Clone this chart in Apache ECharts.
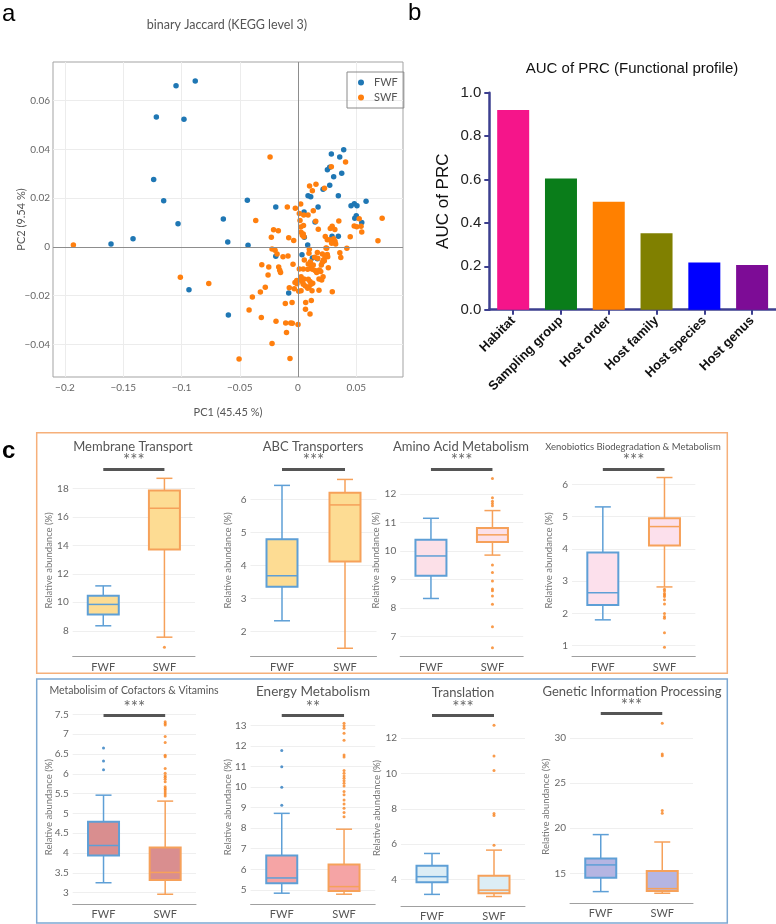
<!DOCTYPE html>
<html>
<head>
<meta charset="utf-8">
<script src="https://cdn.jsdelivr.net/npm/echarts@6/dist/echarts.min.js"></script>
<style>
  html, body { margin: 0; padding: 0; background: #fff; }
  #chart { width: 776px; height: 924px; }
</style>
</head>
<body>
<div id="chart"></div>
<script>
// ---------- a: PCoA, binary Jaccard (KEGG level 3) ----------
const pcaFWF = [
  [-0.1047, 0.0661], [-0.0882, 0.0680], [-0.1216, 0.0533], [-0.0979, 0.0523], [-0.1239, 0.0276],
  [-0.1153, 0.0189], [-0.1030, 0.0095], [-0.1416, 0.0034], [-0.1605, 0.0012], [-0.0936, -0.0175],
  [-0.0641, 0.0115], [-0.0603, 0.0020], [-0.0435, 0.0191], [-0.0429, 0.0007], [-0.0598, -0.0279],
  [-0.0191, 0.0164], [-0.0191, -0.0038], [-0.0080, -0.0189], [0.0034, -0.0032], [0.0052, 0.0143],
  [0.0054, 0.0040], [0.0083, 0.0008], [0.0086, 0.0210], [0.0109, 0.0206], [0.0146, 0.0102],
  [0.0123, -0.0045], [0.0172, 0.0164], [0.0215, 0.0236], [0.0252, 0.0316], [0.0272, 0.0327],
  [0.0286, 0.0381], [0.0306, 0.0288], [0.0272, 0.0253], [0.0346, 0.0210], [0.0358, 0.0369],
  [0.0375, 0.0302], [0.0392, 0.0398], [0.0292, 0.0044], [0.0346, 0.0044], [0.0455, 0.0169],
  [0.0483, 0.0177], [0.0506, 0.0169], [0.0487, 0.0118], [0.0500, 0.0128], [0.0547, 0.0100],
  [0.0584, 0.0187], [0.0166, -0.0048]
];
const pcaSWF = [
  [-0.1928, 0.0008], [-0.1010, -0.0124], [-0.0766, -0.0150], [-0.0240, 0.0369], [-0.0363, 0.0108],
  [-0.0506, -0.0459], [-0.0223, -0.0396], [-0.0069, -0.0457], [-0.0099, -0.0351], [-0.0106, -0.0312],
  [-0.0063, -0.0312], [-0.0049, -0.0313], [0.0000, -0.0318], [-0.0189, -0.0305], [-0.0315, -0.0289],
  [-0.0420, -0.0258], [-0.0392, -0.0205], [-0.0323, -0.0185], [-0.0281, -0.0165], [-0.0109, -0.0232],
  [-0.0051, -0.0228], [0.0066, -0.0228], [0.0064, -0.0255], [0.0103, -0.0275], [0.0114, -0.0219],
  [-0.0257, -0.0115], [-0.0251, -0.0082], [-0.0311, -0.0073], [-0.0166, -0.0082], [-0.0157, -0.0096],
  [-0.0150, -0.0105], [-0.0129, -0.0040], [-0.0086, -0.0037], [-0.0223, -0.0008], [-0.0197, -0.0014],
  [-0.0180, -0.0029], [-0.0229, 0.0040], [-0.0210, 0.0070], [-0.0169, 0.0066], [-0.0080, 0.0038],
  [-0.0037, 0.0026], [-0.0092, 0.0164], [-0.0023, 0.0159], [0.0011, 0.0137], [0.0017, 0.0108],
  [0.0023, 0.0082], [0.0026, 0.0060], [0.0037, 0.0048], [0.0047, 0.0088], [0.0086, 0.0131],
  [0.0099, 0.0250], [0.0123, 0.0230], [0.0154, 0.0257], [0.0131, 0.0148], [0.0174, 0.0073],
  [0.0227, 0.0241], [0.0286, 0.0329], [0.0408, 0.0348], [0.0350, 0.0106], [0.0234, 0.0043],
  [0.0277, 0.0076], [0.0293, 0.0085], [0.0316, 0.0072], [0.0251, 0.0029], [0.0270, 0.0029],
  [0.0306, 0.0034], [0.0317, 0.0023], [0.0323, 0.0012], [0.0289, 0.0015], [0.0246, -0.0005],
  [0.0419, -0.0005], [0.0448, 0.0042], [0.0482, 0.0086], [0.0504, 0.0083], [0.0541, 0.0085],
  [0.0525, 0.0116], [0.0547, 0.0061], [0.0686, 0.0025], [0.0722, 0.0118], [0.0359, -0.0024],
  [0.0367, -0.0043], [0.0294, -0.0184], [-0.0043, -0.0071], [-0.0075, -0.0167], [-0.0032, -0.0171],
  [-0.0026, -0.0146], [-0.0009, -0.0151], [-0.0011, -0.0138], [0.0006, -0.0182], [0.0011, -0.0090],
  [0.0054, -0.0053], [0.0094, -0.0026], [0.0166, -0.0023], [0.0209, -0.0029], [0.0251, -0.0031],
  [0.0255, -0.0040], [0.0143, -0.0042], [0.0169, -0.0046], [0.0217, -0.0053], [0.0232, -0.0040],
  [0.0106, -0.0061], [0.0088, -0.0070], [0.0112, -0.0078], [0.0131, -0.0074], [0.0200, -0.0074],
  [0.0209, -0.0063], [0.0226, -0.0057], [0.0260, -0.0085], [0.0045, -0.0090], [0.0083, -0.0091],
  [0.0123, -0.0091], [0.0146, -0.0097], [0.0160, -0.0105], [0.0183, -0.0094], [0.0195, -0.0101],
  [0.0215, -0.0122], [0.0203, -0.0135], [0.0180, -0.0131], [0.0026, -0.0122], [0.0017, -0.0135],
  [0.0051, -0.0131], [0.0040, -0.0145], [0.0045, -0.0153], [0.0088, -0.0132], [0.0103, -0.0142],
  [0.0126, -0.0149], [0.0112, -0.0153], [0.0063, -0.0160], [0.0094, -0.0164], [0.0083, -0.0169],
  [0.0026, -0.0180], [0.0120, -0.0180], [0.0180, -0.0177], [0.0023, 0.0176], [0.0049, 0.0131],
  [0.0152, 0.0105], [0.0097, -0.0009], [0.0240, -0.0004], [0.0045, 0.0053], [0.0051, 0.0042]
];
const pcaXTicks = [-0.2, -0.15, -0.1, -0.05, 0, 0.05];
const pcaYTicks = [-0.04, -0.02, 0, 0.02, 0.04, 0.06];

// ---------- b: AUC of PRC ----------
const aucCategories = ['Habitat', 'Sampling group', 'Host order', 'Host family', 'Host species', 'Host genus'];
const aucValues = [0.92, 0.605, 0.498, 0.352, 0.217, 0.206];
const aucColors = ['#f5158a', '#0a7d1a', '#ff8000', '#808000', '#0000ff', '#7d0c96'];

// ---------- c: relative abundance boxplots ----------
const groups = ['FWF', 'SWF'];
// each row: [min, Q1, median, Q3, max] for FWF then SWF
const membraneStats = [[8.35, 9.15, 9.85, 10.45, 11.15], [7.55, 13.7, 16.6, 17.85, 18.7]];
const membraneOutliers = [['SWF', 6.85]];
const membraneTicks = [8, 10, 12, 14, 16, 18];

const abcStats = [[2.33, 3.36, 3.69, 4.79, 6.42], [1.5, 4.12, 5.83, 6.2, 6.6]];
const abcOutliers = [];
const abcTicks = [2, 3, 4, 5, 6];

const aminoStats = [[8.34, 9.14, 9.83, 10.40, 11.15], [9.86, 10.32, 10.57, 10.81, 11.42]];
const aminoOutliers = [
  ['SWF', 12.54], ['SWF', 11.87], ['SWF', 11.75], ['SWF', 11.67], ['SWF', 11.59], ['SWF', 9.51],
  ['SWF', 9.25], ['SWF', 8.95], ['SWF', 8.67], ['SWF', 8.61], ['SWF', 8.43], ['SWF', 8.14],
  ['SWF', 7.35], ['SWF', 6.61]
];
const aminoTicks = [7, 8, 9, 10, 11, 12];

const xenoStats = [[1.80, 2.26, 2.64, 3.89, 5.30], [2.82, 4.10, 4.69, 4.95, 6.21]];
const xenoOutliers = [
  ['SWF', 2.75], ['SWF', 2.69], ['SWF', 2.62], ['SWF', 2.57], ['SWF', 2.52], ['SWF', 2.42],
  ['SWF', 2.29], ['SWF', 2.0], ['SWF', 1.90], ['SWF', 1.85], ['SWF', 1.40], ['SWF', 0.95]
];
const xenoTicks = [1, 2, 3, 4, 5, 6];

const cofactorStats = [[3.25, 3.94, 4.19, 4.79, 5.46], [2.96, 3.32, 3.51, 4.14, 5.31]];
const cofactorOutliers = [
  ['FWF', 6.65], ['FWF', 6.32], ['FWF', 6.10],
  ['SWF', 7.31], ['SWF', 7.27], ['SWF', 7.23], ['SWF', 6.94], ['SWF', 6.79], ['SWF', 6.47],
  ['SWF', 6.43], ['SWF', 6.13], ['SWF', 6.01], ['SWF', 5.95], ['SWF', 5.91], ['SWF', 5.86],
  ['SWF', 5.80], ['SWF', 5.67], ['SWF', 5.63], ['SWF', 5.59], ['SWF', 5.54], ['SWF', 5.49], ['SWF', 5.44]
];
const cofactorTicks = [3, 3.5, 4, 4.5, 5, 5.5, 6, 6.5, 7, 7.5];

const energyStats = [[4.84, 5.32, 5.58, 6.67, 8.72], [4.79, 4.95, 5.16, 6.23, 7.95]];
const energyOutliers = [
  ['FWF', 11.77], ['FWF', 10.98], ['FWF', 9.99], ['FWF', 9.11],
  ['SWF', 13.1], ['SWF', 12.98], ['SWF', 12.85], ['SWF', 12.61], ['SWF', 12.27], ['SWF', 11.56],
  ['SWF', 11.46], ['SWF', 10.8], ['SWF', 10.67], ['SWF', 10.54], ['SWF', 10.43], ['SWF', 10.31],
  ['SWF', 10.18], ['SWF', 10.05], ['SWF', 9.78], ['SWF', 9.62], ['SWF', 9.37], ['SWF', 9.18],
  ['SWF', 8.97], ['SWF', 8.76], ['SWF', 8.56]
];
const energyTicks = [5, 6, 7, 8, 9, 10, 11, 12, 13];

const translationStats = [[3.17, 3.85, 4.17, 4.79, 5.48], [3.05, 3.24, 3.41, 4.22, 5.67]];
const translationOutliers = [
  ['SWF', 12.72], ['SWF', 10.98], ['SWF', 10.17], ['SWF', 7.74], ['SWF', 7.63], ['SWF', 5.95]
];
const translationTicks = [4, 6, 8, 10, 12];

const geneticStats = [[12.97, 14.52, 15.93, 16.63, 19.29], [12.79, 13.04, 13.30, 15.26, 18.47]];
const geneticOutliers = [['SWF', 31.63], ['SWF', 28.23], ['SWF', 28.04], ['SWF', 21.95], ['SWF', 21.65]];
const geneticTicks = [15, 20, 25, 30];

// significance bars (height in data units) and stars
const sigLevels = [19.35, 6.915, 12.866, 6.465, 7.465, 13.466, 13.26, 32.69];
const sigStars = ['***', '***', '***', '***', '***', '**', '***', '***'];

// ---------- styling / layout ----------
const sans = 'Lato, "Noto Sans", sans-serif';
const arial = '"Liberation Sans", Arial, sans-serif';
const fwfStroke = '#5e9fd6';
const swfStroke = '#f6a15a';
const fwfDot = '#2c7bbf';
const swfDot = '#f7821e';

const boxPanels = [
  { title: 'Membrane Transport', tx: 133, ty: 447, ts: 13, stats: membraneStats, outliers: membraneOutliers, ticks: membraneTicks,
    fill: '#fddc93', grid: { left: 72.7, top: 464, width: 122.3, height: 192.7 }, min: 6.18, max: 19.705, gap: 19 },
  { title: 'ABC Transporters', tx: 313, ty: 447, ts: 13, stats: abcStats, outliers: abcOutliers, ticks: abcTicks,
    fill: '#fddc93', grid: { left: 250.5, top: 464, width: 126, height: 192.7 }, min: 1.245, max: 7.066, gap: 17.5 },
  { title: 'Amino Acid Metabolism', tx: 461, ty: 447, ts: 13, stats: aminoStats, outliers: aminoOutliers, ticks: aminoTicks,
    fill: '#fce0e8', grid: { left: 400.2, top: 464, width: 123, height: 192.7 }, min: 6.30, max: 13.052, gap: 19 },
  { title: 'Xenobiotics Biodegradation & Metabolism', tx: 633, ty: 446.5, ts: 9.5, stats: xenoStats, outliers: xenoOutliers, ticks: xenoTicks,
    fill: '#fce0ec', grid: { left: 572, top: 464, width: 123.3, height: 192.7 }, min: 0.658, max: 6.629, gap: 18.5 },
  { title: 'Metabolisim of Cofactors & Vitamins', tx: 134, ty: 691, ts: 10.5, stats: cofactorStats, outliers: cofactorOutliers, ticks: cofactorTicks,
    fill: '#d98e8f', grid: { left: 72.7, top: 710, width: 123.3, height: 194.3 }, min: 2.706, max: 7.609, gap: 19 },
  { title: 'Energy Metabolism', tx: 313, ty: 692, ts: 13.5, stats: energyStats, outliers: energyOutliers, ticks: energyTicks,
    fill: '#f5a4a5', grid: { left: 250.6, top: 710, width: 124.6, height: 194.3 }, min: 4.30, max: 13.743, gap: 17.5 },
  { title: 'Translation', tx: 463, ty: 693, ts: 13, stats: translationStats, outliers: translationOutliers, ticks: translationTicks,
    fill: '#dcedf5', grid: { left: 401, top: 710, width: 124, height: 196 }, min: 2.514, max: 13.581, gap: 19 },
  { title: 'Genetic Information Processing', tx: 632, ty: 692, ts: 13, stats: geneticStats, outliers: geneticOutliers, ticks: geneticTicks,
    fill: '#b5b5e2', grid: { left: 570, top: 710, width: 123, height: 193.3 }, min: 11.674, max: 33.104, gap: 19.5 }
];

const chart = echarts.init(document.getElementById('chart'));

const grids = [
  { left: 53, top: 62, width: 350, height: 315, show: true, borderColor: '#a3a3a3', borderWidth: 1,
    backgroundColor: 'transparent', containLabel: false, outerBoundsMode: 'none' },
  { left: 489.3, top: 92.7, width: 286.7, height: 217, containLabel: false, outerBoundsMode: 'none' }
];
const xAxes = [
  { gridIndex: 0, type: 'value', min: -0.2103, max: 0.0901,
    axisLine: { show: false }, axisTick: { show: false, customValues: pcaXTicks },
    splitLine: { show: true, lineStyle: { color: '#ececec', width: 1 } },
    axisLabel: { customValues: pcaXTicks, color: '#666', fontSize: 10, fontFamily: sans, margin: 6,
      formatter: v => (v < 0 ? '\u2212' + String(-v) : String(v)) },
    name: 'PC1 (45.45 %)', nameLocation: 'middle', nameGap: 30, nameMoveOverlap: false,
    nameTextStyle: { color: '#555', fontSize: 11, fontFamily: sans } },
  { gridIndex: 1, type: 'category', data: aucCategories,
    axisLine: { lineStyle: { color: '#3c3f8f', width: 2.5 } },
    axisTick: { show: true, alignWithLabel: true, length: 5, lineStyle: { color: '#3c3f8f', width: 2 } },
    axisLabel: { rotate: 45, interval: 0, fontWeight: 'bold', fontSize: 13, color: '#111', fontFamily: arial, margin: 9 },
    splitLine: { show: false } }
];
const yAxes = [
  { gridIndex: 0, type: 'value', min: -0.0533, max: 0.0758,
    axisLine: { show: false }, axisTick: { show: false, customValues: pcaYTicks },
    splitLine: { show: true, lineStyle: { color: '#ececec', width: 1 } },
    axisLabel: { customValues: pcaYTicks, color: '#666', fontSize: 10, fontFamily: sans, margin: 3,
      formatter: v => (v < 0 ? '\u2212' + String(-v) : String(v)) },
    name: 'PC2 (9.54 %)', nameLocation: 'middle', nameGap: 26, nameRotate: 90, nameMoveOverlap: false,
    nameTextStyle: { color: '#555', fontSize: 11, fontFamily: sans } },
  { gridIndex: 1, type: 'value', min: 0, max: 1, interval: 0.2,
    axisLine: { show: true, lineStyle: { color: '#3c3f8f', width: 2.5 } },
    axisTick: { show: true, length: 5, lineStyle: { color: '#3c3f8f', width: 2 } },
    splitLine: { show: false },
    axisLabel: { color: '#222', fontSize: 15, fontFamily: arial, margin: 8, formatter: v => v.toFixed(1) },
    name: 'AUC of PRC', nameLocation: 'middle', nameGap: 37, nameRotate: 90, nameMoveOverlap: false,
    nameTextStyle: { color: '#111', fontSize: 17, fontFamily: arial } }
];
const series = [
  { type: 'scatter', name: 'FWF', xAxisIndex: 0, yAxisIndex: 0, data: pcaFWF, symbolSize: 5.5,
    itemStyle: { color: '#1f77b4', opacity: 1 },
    markLine: { silent: true, symbol: ['none', 'none'], label: { show: false },
      lineStyle: { color: '#8d8d8d', width: 1, type: 'solid' }, data: [{ xAxis: 0 }, { yAxis: 0 }] } },
  { type: 'scatter', name: 'SWF', xAxisIndex: 0, yAxisIndex: 0, data: pcaSWF, symbolSize: 5.5,
    itemStyle: { color: '#ff7f0e', opacity: 1 } },
  { type: 'bar', xAxisIndex: 1, yAxisIndex: 1, barWidth: 32,
    data: aucValues.map((v, i) => ({ value: v, itemStyle: { color: aucColors[i] } })) }
];

const graphics = [
  { type: 'text', x: 2, y: 2, style: { text: 'a', fontSize: 24, fontFamily: arial, fill: '#000' } },
  { type: 'text', x: 408, y: 1, style: { text: 'b', fontSize: 24, fontFamily: arial, fill: '#000' } },
  { type: 'text', x: 2, y: 439, style: { text: 'c', fontSize: 24, fontWeight: 'bold', fontFamily: arial, fill: '#000' } },
  { type: 'text', x: 227, y: 25, style: { text: 'binary Jaccard (KEGG level 3)', align: 'center', verticalAlign: 'middle',
    fontSize: 12.5, fontFamily: sans, fill: '#555' } },
  { type: 'text', x: 632, y: 69, style: { text: 'AUC of PRC (Functional profile)', align: 'center', verticalAlign: 'middle',
    fontSize: 15, fontFamily: arial, fill: '#111' } },
  { type: 'rect', shape: { x: 36.7, y: 432.7, width: 690.6, height: 240.6 },
    style: { fill: 'none', stroke: '#f6b07a', lineWidth: 1.5 } },
  { type: 'rect', shape: { x: 36.7, y: 679, width: 690.6, height: 244 },
    style: { fill: 'none', stroke: '#7ca8d2', lineWidth: 1.5 } }
];

function makeBoxRenderer(fill) {
  return function (params, api) {
    const cat = api.value(0);
    const pts = [1, 2, 3, 4, 5].map(i => api.coord([cat, api.value(i)]));
    const x = pts[0][0];
    const yMin = pts[0][1], yQ1 = pts[1][1], yMed = pts[2][1], yQ3 = pts[3][1], yMax = pts[4][1];
    const stroke = cat === 0 ? fwfStroke : swfStroke;
    const ls = { stroke: stroke, lineWidth: 1.5 };
    const hw = 15.5, cw = 8;
    return {
      type: 'group',
      children: [
        { type: 'line', shape: { x1: x, y1: yMax, x2: x, y2: yQ3 }, style: ls },
        { type: 'line', shape: { x1: x, y1: yQ1, x2: x, y2: yMin }, style: ls },
        { type: 'line', shape: { x1: x - cw, y1: yMax, x2: x + cw, y2: yMax }, style: ls },
        { type: 'line', shape: { x1: x - cw, y1: yMin, x2: x + cw, y2: yMin }, style: ls },
        { type: 'rect', shape: { x: x - hw, y: yQ3, width: 2 * hw, height: yQ1 - yQ3 },
          style: { fill: fill, stroke: stroke, lineWidth: 2 } },
        { type: 'line', shape: { x1: x - hw, y1: yMed, x2: x + hw, y2: yMed }, style: ls }
      ]
    };
  };
}

boxPanels.forEach((p, k) => {
  const gi = grids.length;
  grids.push(Object.assign({ containLabel: false, outerBoundsMode: 'none' }, p.grid));
  xAxes.push({ gridIndex: gi, type: 'category', data: groups,
    axisLine: { show: true, lineStyle: { color: '#a0a0a0', width: 1 } },
    axisTick: { show: false }, splitLine: { show: false },
    axisLabel: { color: '#555', fontSize: 11, fontFamily: sans, margin: 5 } });
  yAxes.push({ gridIndex: gi, type: 'value', min: p.min, max: p.max,
    axisLine: { show: false }, axisTick: { show: false, customValues: p.ticks },
    splitLine: { show: true, lineStyle: { color: '#efefef', width: 1 } },
    axisLabel: { customValues: p.ticks, color: '#666', fontSize: 10, fontFamily: sans, margin: 4 },
    name: 'Relative abundance (%)', nameLocation: 'middle', nameGap: p.gap, nameRotate: 90, nameMoveOverlap: false,
    nameTextStyle: { color: '#777', fontSize: 9.5, fontFamily: sans } });
  const ai = xAxes.length - 1;
  series.push({ type: 'custom', xAxisIndex: ai, yAxisIndex: ai,
    renderItem: makeBoxRenderer(p.fill), encode: { x: 0, y: [1, 2, 3, 4, 5] },
    data: p.stats.map((s, i) => [i].concat(s)) });
  series.push({ type: 'scatter', xAxisIndex: ai, yAxisIndex: ai, symbolSize: 3, z: 3,
    data: p.outliers.map(o => ({ value: o, itemStyle: { color: o[0] === 'FWF' ? fwfDot : swfDot } })),
    markLine: { silent: true, symbol: ['none', 'none'],
      lineStyle: { color: '#555', width: 3, type: 'solid' },
      label: { show: true, position: 'insideMiddleTop', distance: 0, formatter: sigStars[k],
        color: '#666', fontSize: 17, fontFamily: sans },
      data: [[{ coord: ['FWF', sigLevels[k]] }, { coord: ['SWF', sigLevels[k]] }]] } });
  graphics.push({ type: 'text', x: p.tx, y: p.ty, style: { text: p.title, align: 'center', verticalAlign: 'middle',
    fontSize: p.ts, fontFamily: sans, fill: '#555' } });
});

chart.setOption({
  animation: false,
  backgroundColor: '#fff',
  grid: grids,
  xAxis: xAxes,
  yAxis: yAxes,
  legend: { data: ['FWF', 'SWF'], orient: 'vertical', left: 347, top: 72, selectedMode: false,
    icon: 'circle', itemWidth: 6, itemHeight: 6, itemGap: 4, padding: [5, 6, 5, 11],
    borderColor: '#8a8a8a', borderWidth: 1,
    textStyle: { color: '#555', fontSize: 11, fontFamily: sans, padding: [0, 0, 0, 5] } },
  tooltip: { show: false },
  series: series,
  graphic: graphics
});
</script>
</body>
</html>
